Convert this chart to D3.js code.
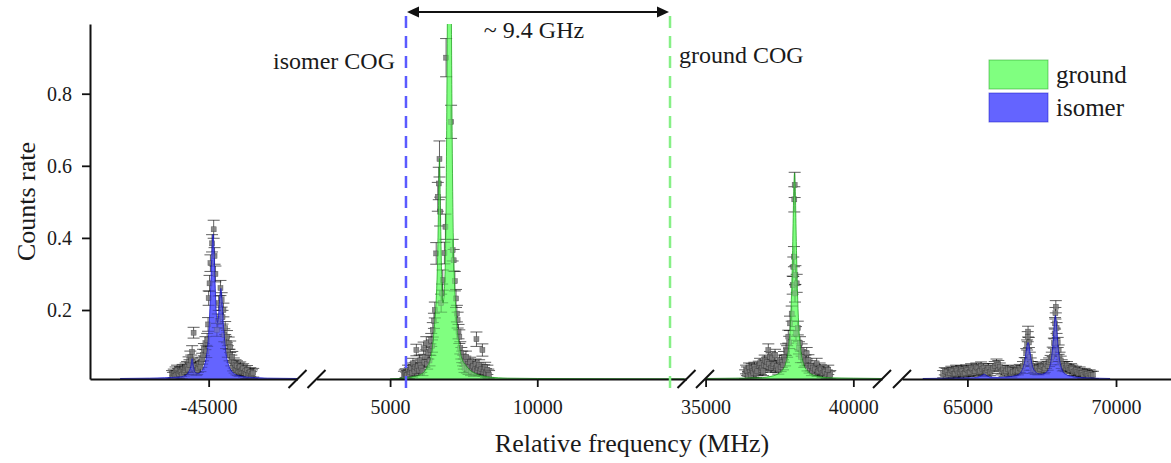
<!DOCTYPE html>
<html>
<head>
<meta charset="utf-8">
<script src="https://cdn.jsdelivr.net/npm/d3@7"></script>
<style>
  body { margin: 0; background: #fff; }
  text { font-family: "Liberation Serif", "Times New Roman", serif; fill: #1a1a1a; }
</style>
</head>
<body>
<svg id="chart" width="1171" height="463"></svg>
<script>
// Broken x axis: frequency window of each panel (MHz)
const segDomains = [[-49020, -41990], [2500, 15070], [34980, 40970], [62800, 71850]];
const segTicks = [[-45000], [5000, 10000], [35000, 40000], [65000, 70000]];
const yTicks = [0.2, 0.4, 0.6, 0.8];

// centres of gravity (MHz, drawn in the second panel)
const isomerCOG = 5540;
const groundCOG = 14510;
const splitLabel = "~ 9.4 GHz";

const legendNames = ["ground", "isomer"];

// fitted profiles [freq, rate]
const isomerLowFit = [
  [-48000, 0.010], [-47000, 0.011], [-46500, 0.012], [-46000, 0.014], [-45800, 0.018],
  [-45680, 0.028], [-45600, 0.045], [-45560, 0.065], [-45520, 0.045], [-45450, 0.026],
  [-45350, 0.024], [-45250, 0.030], [-45150, 0.045], [-45080, 0.070], [-45020, 0.110],
  [-44970, 0.180], [-44920, 0.290], [-44880, 0.380], [-44850, 0.410], [-44820, 0.370],
  [-44780, 0.270], [-44740, 0.190], [-44700, 0.165], [-44660, 0.190], [-44620, 0.240],
  [-44585, 0.260], [-44550, 0.230], [-44500, 0.160], [-44440, 0.100], [-44380, 0.065],
  [-44300, 0.042], [-44200, 0.028], [-44000, 0.018], [-43700, 0.014], [-43000, 0.011],
  [-42000, 0.010]
];
const groundMidFit = [
  [5000, 0.009], [5566, 0.012], [5836, 0.016], [6004, 0.020], [6172, 0.030], [6274, 0.045],
  [6375, 0.065], [6442, 0.100], [6510, 0.160], [6567, 0.230], [6610, 0.330], [6644, 0.480],
  [6678, 0.620], [6711, 0.480], [6745, 0.320], [6796, 0.220], [6846, 0.260], [6897, 0.450],
  [6930, 0.800], [6964, 1.300], [6998, 2.000], [7015, 2.200], [7032, 2.000], [7065, 1.300],
  [7099, 0.800], [7149, 0.400], [7250, 0.180], [7352, 0.100], [7419, 0.070], [7587, 0.045],
  [7857, 0.025], [8362, 0.014], [9000, 0.011], [10000, 0.010], [15000, 0.009]
];
const groundHighFit = [
  [34980, 0.010], [36000, 0.011], [36810, 0.012], [37310, 0.018], [37560, 0.030],
  [37710, 0.052], [37810, 0.097], [37880, 0.180], [37925, 0.295], [37950, 0.390],
  [37980, 0.517], [38010, 0.580], [38040, 0.517], [38070, 0.390], [38095, 0.295],
  [38140, 0.180], [38210, 0.097], [38310, 0.052], [38460, 0.030], [38710, 0.018],
  [39210, 0.012], [40010, 0.011], [40970, 0.010]
];
const isomerHighFit = [
  [63500, 0.010], [64500, 0.011], [65200, 0.012], [65400, 0.015], [65500, 0.019],
  [65564, 0.022], [65630, 0.019], [65750, 0.014], [66000, 0.013], [66400, 0.015],
  [66700, 0.020], [66820, 0.030], [66890, 0.044], [66940, 0.062], [66960, 0.075],
  [67000, 0.098], [67041, 0.110], [67080, 0.098], [67120, 0.075], [67145, 0.062],
  [67190, 0.044], [67260, 0.031], [67400, 0.023], [67500, 0.022], [67650, 0.027],
  [67760, 0.040], [67830, 0.068], [67870, 0.098], [67890, 0.120], [67925, 0.162],
  [67961, 0.185], [67995, 0.162], [68030, 0.120], [68050, 0.098], [68090, 0.068],
  [68160, 0.040], [68260, 0.025], [68450, 0.017], [68800, 0.013], [69300, 0.011],
  [69800, 0.010]
];

// measured points [freq, rate, error]
const isomerLowPts = [
  [-46240, 0.020, 0.012], [-46210, 0.016, 0.011], [-46180, 0.024, 0.012], [-46150, 0.018, 0.011],
  [-46120, 0.030, 0.012], [-46090, 0.021, 0.011], [-46070, 0.034, 0.013], [-46030, 0.026, 0.012],
  [-46000, 0.022, 0.012], [-45970, 0.031, 0.012], [-45940, 0.028, 0.012], [-45910, 0.020, 0.011],
  [-45880, 0.036, 0.013], [-45840, 0.029, 0.012], [-45810, 0.033, 0.012], [-45780, 0.040, 0.013],
  [-45730, 0.043, 0.014], [-45700, 0.035, 0.013], [-45680, 0.055, 0.015], [-45650, 0.048, 0.014],
  [-45620, 0.070, 0.016], [-45590, 0.060, 0.015], [-45560, 0.084, 0.017], [-45510, 0.137, 0.015],
  [-45480, 0.040, 0.013], [-45450, 0.045, 0.014], [-45420, 0.030, 0.012], [-45390, 0.034, 0.013],
  [-45360, 0.040, 0.013], [-45330, 0.050, 0.014], [-45280, 0.043, 0.014], [-45250, 0.055, 0.014],
  [-45220, 0.065, 0.015], [-45190, 0.075, 0.016], [-45160, 0.090, 0.017], [-45110, 0.108, 0.018],
  [-45080, 0.085, 0.017], [-45050, 0.117, 0.018], [-45020, 0.160, 0.019], [-45000, 0.233, 0.020],
  [-44970, 0.274, 0.022], [-44940, 0.330, 0.023], [-44885, 0.385, 0.024], [-44830, 0.424, 0.025],
  [-44800, 0.350, 0.023], [-44770, 0.300, 0.022], [-44720, 0.145, 0.018], [-44690, 0.170, 0.019],
  [-44660, 0.219, 0.020], [-44600, 0.261, 0.021], [-44560, 0.228, 0.020], [-44530, 0.180, 0.019],
  [-44500, 0.200, 0.019], [-44470, 0.130, 0.018], [-44440, 0.150, 0.018], [-44410, 0.110, 0.017],
  [-44380, 0.126, 0.017], [-44350, 0.085, 0.016], [-44320, 0.108, 0.017], [-44290, 0.075, 0.016],
  [-44270, 0.098, 0.016], [-44230, 0.060, 0.015], [-44200, 0.070, 0.015], [-44170, 0.045, 0.014],
  [-44150, 0.053, 0.014], [-44120, 0.038, 0.013], [-44090, 0.048, 0.014], [-44060, 0.033, 0.013],
  [-44040, 0.045, 0.014], [-44010, 0.030, 0.012], [-43980, 0.040, 0.013], [-43950, 0.028, 0.012],
  [-43930, 0.043, 0.013], [-43900, 0.030, 0.012], [-43870, 0.035, 0.013], [-43830, 0.038, 0.013],
  [-43800, 0.026, 0.012], [-43760, 0.030, 0.012], [-43730, 0.022, 0.012], [-43700, 0.034, 0.012],
  [-43670, 0.020, 0.011], [-43640, 0.025, 0.012], [-43590, 0.028, 0.012], [-43560, 0.018, 0.011],
  [-43530, 0.022, 0.012], [-43490, 0.026, 0.012]
];
const groundMidPts = [
  [5470, 0.018, 0.012], [5500, 0.022, 0.012], [5530, 0.025, 0.012], [5555, 0.016, 0.011],
  [5580, 0.020, 0.012], [5610, 0.034, 0.013], [5640, 0.022, 0.012], [5670, 0.028, 0.012],
  [5695, 0.035, 0.012], [5720, 0.040, 0.013], [5750, 0.026, 0.012], [5778, 0.052, 0.014],
  [5805, 0.036, 0.013], [5830, 0.030, 0.012], [5860, 0.042, 0.013], [5893, 0.089, 0.016],
  [5920, 0.038, 0.013], [5950, 0.045, 0.014], [5975, 0.032, 0.012], [6004, 0.060, 0.015],
  [6030, 0.048, 0.014], [6060, 0.040, 0.013], [6100, 0.030, 0.012], [6139, 0.094, 0.017],
  [6165, 0.055, 0.014], [6190, 0.070, 0.016], [6230, 0.108, 0.018], [6260, 0.050, 0.014],
  [6300, 0.080, 0.016], [6340, 0.060, 0.015], [6370, 0.090, 0.016], [6398, 0.117, 0.018],
  [6425, 0.100, 0.017], [6452, 0.145, 0.020], [6490, 0.170, 0.021], [6520, 0.200, 0.022],
  [6567, 0.357, 0.030], [6621, 0.514, 0.040], [6654, 0.551, 0.045], [6678, 0.619, 0.050],
  [6700, 0.473, 0.040], [6735, 0.219, 0.025], [6769, 0.246, 0.026], [6789, 0.283, 0.028],
  [6846, 0.358, 0.030], [6880, 0.431, 0.035], [6903, 0.900, 0.053], [7072, 0.722, 0.046],
  [7126, 0.366, 0.030], [7160, 0.338, 0.030], [7200, 0.280, 0.027], [7240, 0.232, 0.025],
  [7270, 0.190, 0.023], [7294, 0.172, 0.022], [7325, 0.140, 0.020], [7352, 0.126, 0.019],
  [7385, 0.095, 0.017], [7420, 0.080, 0.016], [7450, 0.070, 0.016], [7480, 0.060, 0.015],
  [7505, 0.050, 0.014], [7530, 0.040, 0.013], [7555, 0.058, 0.014], [7577, 0.070, 0.016],
  [7610, 0.038, 0.013], [7640, 0.050, 0.014], [7665, 0.034, 0.013], [7688, 0.043, 0.014],
  [7720, 0.055, 0.014], [7750, 0.030, 0.012], [7785, 0.040, 0.013], [7820, 0.045, 0.014],
  [7850, 0.028, 0.012], [7880, 0.035, 0.013], [7905, 0.050, 0.014], [7934, 0.119, 0.020],
  [7960, 0.032, 0.012], [7990, 0.040, 0.013], [8025, 0.048, 0.014], [8060, 0.030, 0.012],
  [8100, 0.036, 0.013], [8136, 0.089, 0.017], [8170, 0.028, 0.012], [8200, 0.035, 0.013],
  [8230, 0.042, 0.013], [8260, 0.025, 0.012], [8305, 0.034, 0.013], [8335, 0.024, 0.012],
  [8362, 0.020, 0.012]
];
const groundHighPts = [
  [36340, 0.022, 0.012], [36370, 0.035, 0.012], [36400, 0.030, 0.012], [36440, 0.018, 0.012],
  [36470, 0.040, 0.013], [36500, 0.028, 0.012], [36530, 0.020, 0.012], [36562, 0.038, 0.013],
  [36590, 0.030, 0.012], [36616, 0.025, 0.012], [36650, 0.042, 0.013], [36680, 0.035, 0.013],
  [36715, 0.024, 0.012], [36750, 0.030, 0.012], [36800, 0.045, 0.013], [36843, 0.052, 0.014],
  [36870, 0.034, 0.013], [36900, 0.040, 0.013], [36944, 0.030, 0.012], [36970, 0.048, 0.014],
  [37000, 0.060, 0.015], [37046, 0.045, 0.014], [37080, 0.055, 0.014], [37123, 0.089, 0.017],
  [37150, 0.050, 0.014], [37181, 0.070, 0.015], [37210, 0.040, 0.013], [37238, 0.066, 0.015],
  [37270, 0.045, 0.014], [37300, 0.050, 0.014], [37350, 0.075, 0.016], [37385, 0.040, 0.013],
  [37420, 0.045, 0.014], [37460, 0.035, 0.013], [37500, 0.060, 0.015], [37540, 0.042, 0.013],
  [37580, 0.055, 0.014], [37620, 0.048, 0.014], [37654, 0.070, 0.015], [37690, 0.060, 0.015],
  [37722, 0.090, 0.016], [37760, 0.085, 0.016], [37799, 0.126, 0.018], [37830, 0.110, 0.017],
  [37857, 0.163, 0.020], [37914, 0.190, 0.021], [37948, 0.269, 0.025], [37968, 0.320, 0.027],
  [37990, 0.348, 0.028], [38002, 0.507, 0.035], [38015, 0.547, 0.035], [38026, 0.246, 0.024],
  [38040, 0.297, 0.026], [38060, 0.135, 0.019], [38083, 0.274, 0.025], [38120, 0.150, 0.019],
  [38160, 0.095, 0.017], [38195, 0.108, 0.018], [38225, 0.070, 0.016], [38250, 0.089, 0.017],
  [38300, 0.070, 0.016], [38340, 0.055, 0.014], [38380, 0.060, 0.015], [38421, 0.080, 0.016],
  [38450, 0.045, 0.014], [38480, 0.061, 0.015], [38520, 0.038, 0.013], [38560, 0.045, 0.014],
  [38600, 0.030, 0.012], [38634, 0.040, 0.013], [38700, 0.035, 0.013], [38759, 0.052, 0.014],
  [38790, 0.028, 0.012], [38820, 0.030, 0.012], [38860, 0.040, 0.013], [38900, 0.035, 0.013],
  [38960, 0.025, 0.012], [39000, 0.032, 0.012], [39040, 0.029, 0.012], [39100, 0.022, 0.012],
  [39151, 0.034, 0.013], [39190, 0.018, 0.011], [39220, 0.020, 0.012]
];
const isomerHighPts = [
  [64187, 0.022, 0.010], [64240, 0.030, 0.010], [64300, 0.028, 0.010], [64360, 0.020, 0.010],
  [64412, 0.025, 0.010], [64460, 0.033, 0.011], [64500, 0.030, 0.010], [64540, 0.022, 0.010],
  [64580, 0.024, 0.010], [64620, 0.036, 0.011], [64660, 0.032, 0.011], [64700, 0.024, 0.010],
  [64748, 0.027, 0.010], [64790, 0.035, 0.011], [64830, 0.030, 0.010], [64870, 0.022, 0.010],
  [64916, 0.026, 0.010], [64960, 0.037, 0.011], [65000, 0.033, 0.011], [65040, 0.025, 0.010],
  [65083, 0.028, 0.010], [65125, 0.040, 0.011], [65170, 0.035, 0.011], [65210, 0.026, 0.010],
  [65251, 0.030, 0.010], [65300, 0.042, 0.011], [65340, 0.038, 0.011], [65380, 0.028, 0.010],
  [65419, 0.032, 0.011], [65460, 0.045, 0.011], [65500, 0.036, 0.011], [65545, 0.040, 0.011],
  [65587, 0.030, 0.010], [65630, 0.026, 0.010], [65670, 0.034, 0.011], [65710, 0.040, 0.011],
  [65755, 0.028, 0.010], [65810, 0.035, 0.011], [65860, 0.040, 0.011], [65920, 0.045, 0.012],
  [65980, 0.052, 0.012], [66040, 0.048, 0.012], [66091, 0.042, 0.011], [66150, 0.030, 0.010],
  [66200, 0.035, 0.011], [66250, 0.026, 0.010], [66300, 0.030, 0.010], [66360, 0.036, 0.011],
  [66427, 0.033, 0.011], [66480, 0.024, 0.010], [66540, 0.028, 0.010], [66600, 0.030, 0.010],
  [66650, 0.034, 0.011], [66700, 0.030, 0.010], [66762, 0.038, 0.011], [66820, 0.035, 0.011],
  [66870, 0.045, 0.012], [66930, 0.056, 0.012], [66980, 0.080, 0.013], [67010, 0.103, 0.014],
  [67030, 0.126, 0.014], [67041, 0.140, 0.015], [67070, 0.110, 0.014], [67100, 0.070, 0.013],
  [67130, 0.055, 0.012], [67165, 0.045, 0.012], [67210, 0.035, 0.011], [67250, 0.038, 0.011],
  [67300, 0.032, 0.011], [67350, 0.040, 0.011], [67390, 0.030, 0.010], [67434, 0.036, 0.011],
  [67480, 0.045, 0.011], [67530, 0.042, 0.011], [67570, 0.034, 0.011], [67602, 0.038, 0.011],
  [67650, 0.050, 0.012], [67700, 0.045, 0.012], [67750, 0.055, 0.012], [67800, 0.061, 0.013],
  [67840, 0.070, 0.013], [67871, 0.084, 0.013], [67910, 0.108, 0.014], [67935, 0.135, 0.015],
  [67950, 0.163, 0.016], [67961, 0.191, 0.016], [67975, 0.209, 0.017], [68000, 0.150, 0.015],
  [68038, 0.110, 0.014], [68070, 0.090, 0.013], [68100, 0.070, 0.013], [68140, 0.060, 0.012],
  [68173, 0.050, 0.012], [68210, 0.042, 0.011], [68250, 0.045, 0.012], [68307, 0.040, 0.011],
  [68350, 0.046, 0.011], [68400, 0.038, 0.011], [68441, 0.034, 0.011], [68490, 0.040, 0.011],
  [68530, 0.036, 0.011], [68570, 0.028, 0.010], [68609, 0.030, 0.010], [68650, 0.034, 0.010],
  [68700, 0.028, 0.010], [68740, 0.024, 0.010], [68777, 0.032, 0.010], [68820, 0.026, 0.010],
  [68860, 0.025, 0.010], [68900, 0.020, 0.010], [68945, 0.028, 0.010], [68990, 0.024, 0.010],
  [69030, 0.022, 0.010], [69070, 0.018, 0.010], [69113, 0.024, 0.010], [69170, 0.020, 0.010],
  [69224, 0.020, 0.010]
];

const colors = { ground: "#80ff80", isomer: "#6464ff" };
const edges = { ground: "#1c9a1c", isomer: "#1010c0" };

// which fit / points go in which panel
const panels = [
  { fit: isomerLowFit, pts: isomerLowPts, kind: "isomer" },
  { fit: groundMidFit, pts: groundMidPts, kind: "ground" },
  { fit: groundHighFit, pts: groundHighPts, kind: "ground" },
  { fit: isomerHighFit, pts: isomerHighPts, kind: "isomer" }
];

const svg = d3.select("#chart");
const axisY = 379, topY = 24, leftX = 90;
const segRanges = [[90, 297.5], [316.5, 686.5], [705, 882], [902, 1171]];

const y = d3.scaleLinear().domain([0.0086, 0.9934]).range([axisY, topY]);
const xs = segDomains.map((d, i) => d3.scaleLinear().domain(d).range(segRanges[i]));

const defs = svg.append("defs");
segRanges.forEach((r, i) => {
  defs.append("clipPath").attr("id", "clip" + i)
    .append("rect").attr("x", r[0]).attr("y", topY).attr("width", r[1] - r[0]).attr("height", axisY - topY);
});

// data layers
panels.forEach((p, i) => {
  const sx = xs[i];
  const g = svg.append("g").attr("clip-path", `url(#clip${i})`);

  const area = d3.area().x(d => sx(d[0])).y0(axisY).y1(d => y(d[1])).curve(d3.curveMonotoneX);
  const line = d3.line().x(d => sx(d[0])).y(d => y(d[1])).curve(d3.curveMonotoneX);

  g.append("path").datum(p.fit).attr("d", area)
    .attr("fill", colors[p.kind]).attr("stroke", "none");

  const bars = g.append("g").attr("stroke", "rgba(0,0,0,0.62)").attr("stroke-width", 1);
  p.pts.forEach(d => {
    const cx = sx(d[0]);
    const lo = Math.min(axisY, y(d[1] - d[2])), hi = y(d[1] + d[2]);
    bars.append("line").attr("x1", cx).attr("x2", cx).attr("y1", lo).attr("y2", hi);
    bars.append("line").attr("x1", cx - 6).attr("x2", cx + 6).attr("y1", lo).attr("y2", lo);
    bars.append("line").attr("x1", cx - 6).attr("x2", cx + 6).attr("y1", hi).attr("y2", hi);
  });
  g.append("g").selectAll("rect").data(p.pts).join("rect")
    .attr("x", d => sx(d[0]) - 2.5).attr("y", d => y(d[1]) - 2.5)
    .attr("width", 5).attr("height", 5)
    .attr("fill", "#7a7a7a").attr("fill-opacity", 0.85)
    .attr("stroke", "#333").attr("stroke-width", 0.5).attr("stroke-opacity", 0.7);

  // fit drawn over the points, partly see-through
  g.append("path").datum(p.fit).attr("d", area)
    .attr("fill", colors[p.kind]).attr("fill-opacity", 0.55).attr("stroke", "none");
  g.append("path").datum(p.fit).attr("d", line)
    .attr("fill", "none").attr("stroke", edges[p.kind]).attr("stroke-width", 0.9).attr("stroke-opacity", 0.8);
});

// y axis
const yAxis = svg.append("g").attr("transform", `translate(${leftX},0)`)
  .call(d3.axisLeft(y).tickValues(yTicks).tickSize(8).tickSizeOuter(0).tickPadding(10).tickFormat(d3.format(".1f")));
yAxis.select(".domain").attr("stroke", "#111").attr("stroke-width", 2);
yAxis.selectAll(".tick line").attr("stroke", "#111").attr("stroke-width", 1.8);
yAxis.selectAll(".tick text").attr("font-size", 20).attr("font-family", null).attr("fill", "#1a1a1a");

// x axis, one piece per panel
xs.forEach((sx, i) => {
  const ax = svg.append("g").attr("transform", `translate(0,${axisY})`)
    .call(d3.axisBottom(sx).tickValues(segTicks[i]).tickSize(8).tickSizeOuter(0).tickPadding(13).tickFormat(d => String(d)));
  ax.select(".domain").attr("stroke", "#111").attr("stroke-width", 2);
  ax.selectAll(".tick line").attr("stroke", "#111").attr("stroke-width", 1.8);
  ax.selectAll(".tick text").attr("font-size", 20).attr("font-family", null).attr("fill", "#1a1a1a");
});

// break marks
const breaks = [];
segRanges.forEach((r, i) => {
  if (i > 0) breaks.push(r[0]);
  if (i < segRanges.length - 1) breaks.push(r[1]);
});
svg.append("g").selectAll("line").data(breaks).join("line")
  .attr("x1", d => d - 9).attr("y1", axisY + 9).attr("x2", d => d + 9).attr("y2", axisY - 9)
  .attr("stroke", "#111").attr("stroke-width", 2);

// COG markers
const xIso = xs[1](isomerCOG), xGnd = xs[1](groundCOG);
svg.append("line").attr("x1", xIso).attr("x2", xIso).attr("y1", 16).attr("y2", 393)
  .attr("stroke", "#5a5aff").attr("stroke-width", 2.5).attr("stroke-dasharray", "12,8");
svg.append("line").attr("x1", xGnd).attr("x2", xGnd).attr("y1", 16).attr("y2", 393)
  .attr("stroke", "#86f086").attr("stroke-width", 2.5).attr("stroke-dasharray", "12,8");

// double arrow between COGs
const arrY = 12;
svg.append("line").attr("x1", xIso + 8).attr("x2", xGnd - 8).attr("y1", arrY).attr("y2", arrY)
  .attr("stroke", "#111").attr("stroke-width", 1.8);
svg.append("path").attr("d", `M${xIso + 1},${arrY}L${xIso + 13},${arrY - 5.5}L${xIso + 13},${arrY + 5.5}Z`).attr("fill", "#111");
svg.append("path").attr("d", `M${xGnd - 1},${arrY}L${xGnd - 13},${arrY - 5.5}L${xGnd - 13},${arrY + 5.5}Z`).attr("fill", "#111");

svg.append("text").attr("x", (xIso + xGnd) / 2 - 4).attr("y", 38).attr("text-anchor", "middle")
  .attr("font-size", 24).text(splitLabel);
svg.append("text").attr("x", xIso - 11).attr("y", 69).attr("text-anchor", "end")
  .attr("font-size", 24).text("isomer COG");
svg.append("text").attr("x", xGnd + 9).attr("y", 63)
  .attr("font-size", 24).text("ground COG");

// legend
const legend = svg.append("g").attr("transform", "translate(989,60)");
legendNames.forEach((name, i) => {
  legend.append("rect").attr("x", 0).attr("y", i * 33).attr("width", 59).attr("height", 29)
    .attr("fill", colors[name]).attr("stroke", edges[name]).attr("stroke-opacity", 0.5).attr("stroke-width", 1);
  legend.append("text").attr("x", 67).attr("y", i * 33 + 23).attr("font-size", 25).text(name);
});

// axis titles
svg.append("text").attr("transform", `translate(35,${(axisY + topY) / 2}) rotate(-90)`)
  .attr("text-anchor", "middle").attr("font-size", 26).text("Counts rate");
svg.append("text").attr("x", 632).attr("y", 452).attr("text-anchor", "middle")
  .attr("font-size", 26).text("Relative frequency (MHz)");
</script>
</body>
</html>
